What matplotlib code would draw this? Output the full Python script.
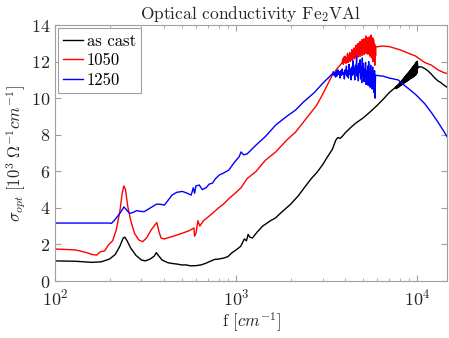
import matplotlib
matplotlib.use("Agg")
import matplotlib.pyplot as plt

plt.rcParams['font.family'] = 'serif'
plt.rcParams['font.serif'] = ['cmr10', 'DejaVu Serif']
plt.rcParams['mathtext.fontset'] = 'cm'
plt.rcParams['axes.unicode_minus'] = False
plt.rcParams['axes.formatter.use_mathtext'] = True

# as cast
f_cast = [100, 130, 160, 180, 200, 215, 228, 238, 243, 250, 262, 280, 300, 315, 335, 352, 363, 372,
          390, 420, 450, 470, 500, 530, 560, 600, 640, 680, 720, 760, 800, 850, 900, 950, 1000,
          1060, 1110, 1140, 1165, 1190, 1230, 1300, 1400, 1550, 1650, 1800, 2000, 2200, 2400,
          2600, 2800, 3000, 3200, 3400, 3550, 3650, 3750, 3850, 4000, 4300, 4600, 5000, 5500,
          6000, 6500, 7000, 7500,
          7600, 7650, 7700, 7750, 7800, 7850, 7900, 7950, 8000, 8050, 8100, 8150, 8200, 8250,
          8300, 8350, 8400, 8450, 8500, 8550, 8600, 8650, 8700, 8750, 8800, 8850, 8900, 8950,
          9000, 9050, 9100, 9150, 9200, 9250, 9300, 9350, 9400, 9450, 9500, 9550, 9600, 9650,
          9700, 9750, 9800, 9850, 9900, 9950, 10000,
          10100, 10300, 10600, 11000, 11500, 12000, 12500, 13000, 13500, 14000, 14600]
s_cast = [1.10, 1.08, 1.02, 1.05, 1.20, 1.45, 1.90, 2.35, 2.40, 2.20, 1.80, 1.40, 1.15, 1.10, 1.20,
          1.35, 1.55, 1.40, 1.15, 1.00, 0.95, 0.93, 0.88, 0.88, 0.83, 0.84, 0.88, 0.97, 1.08, 1.18,
          1.20, 1.25, 1.33, 1.55, 1.70, 1.90, 2.30, 2.20, 2.55, 2.40, 2.35, 2.65, 3.00, 3.30, 3.45,
          3.80, 4.20, 4.65, 5.15, 5.60, 5.95, 6.35, 6.80, 7.20, 7.70, 7.85, 7.80, 7.90, 8.10, 8.40,
          8.65, 8.90, 9.25, 9.60, 9.95, 10.30, 10.55,
          10.62, 10.52, 10.68, 10.55, 10.72, 10.58, 10.78, 10.62, 10.85, 10.66, 10.90, 10.70,
          10.96, 10.74, 11.02, 10.78, 11.08, 10.82, 11.14, 10.85, 11.20, 10.88, 11.26, 10.92,
          11.32, 10.95, 11.38, 10.98, 11.44, 11.02, 11.50, 11.05, 11.56, 11.08, 11.62, 11.10,
          11.68, 11.14, 11.74, 11.17, 11.80, 11.20, 11.86, 11.24, 11.92, 11.28, 11.98, 11.35,
          12.02,
          11.65, 11.72, 11.70, 11.62, 11.48, 11.30, 11.10, 10.95, 10.85, 10.72, 10.60]

# 1050
f_1050 = [100, 130, 150, 160, 170, 178, 188, 198, 208, 218, 228, 235, 240, 245, 252, 262, 275, 290,
          305, 320, 340, 355, 365, 375, 385, 400, 450, 500, 550, 585, 590, 600, 615, 630, 660, 700,
          740, 800, 850, 912, 1000, 1065, 1150, 1290, 1450, 1655, 1900, 2131, 2400, 2780, 3000,
          3376, 3600, 3820,
          3850, 3880, 3910, 3940, 3970, 4000, 4030, 4060, 4090, 4120, 4150, 4180, 4210, 4240,
          4270, 4300, 4330, 4360, 4390, 4420, 4450, 4480, 4510, 4540, 4570, 4600, 4630, 4660,
          4690, 4720, 4750, 4780, 4810, 4840, 4870, 4900, 4930, 4960, 4990, 5020, 5050, 5080,
          5110, 5140, 5170, 5200, 5230, 5260, 5290, 5320, 5350, 5380, 5410, 5440, 5470, 5500,
          5530, 5560, 5590, 5620, 5650, 5680, 5710, 5740, 5770, 5800, 5830, 5860, 5890, 5910,
          6400, 7000, 8000, 9000, 9800, 11000, 12000, 13000, 14000, 14600]
s_1050 = [1.75, 1.70, 1.55, 1.45, 1.42, 1.60, 1.65, 2.00, 2.20, 2.80, 3.80, 4.80, 5.20, 5.00, 4.10,
          3.30, 2.60, 2.25, 2.15, 2.35, 2.80, 3.05, 3.20, 2.70, 2.35, 2.30, 2.45, 2.60, 2.75, 2.90,
          2.45, 2.60, 3.30, 3.00, 3.30, 3.50, 3.70, 4.00, 4.20, 4.50, 4.85, 5.10, 5.60, 6.00, 6.60,
          7.06, 7.70, 8.15, 8.80, 9.60, 10.20, 11.20, 11.60, 11.90,
          11.90, 12.15, 11.85, 12.25, 11.95, 12.30, 11.90, 12.20, 12.00, 12.45, 11.95, 12.35,
          12.05, 12.50, 12.00, 12.40, 12.10, 12.65, 12.05, 12.55, 12.20, 12.75, 12.15, 12.60,
          12.30, 12.90, 12.20, 12.70, 12.35, 13.00, 12.25, 12.80, 12.40, 13.10, 12.30, 12.85,
          12.45, 13.20, 12.35, 12.95, 12.50, 13.25, 12.40, 13.00, 12.55, 13.40, 12.45, 13.10,
          12.60, 13.30, 12.40, 13.05, 12.50, 13.35, 12.30, 13.00, 12.45, 13.45, 12.20, 13.10,
          12.40, 13.30, 12.00, 13.20, 12.20, 13.00, 11.80, 12.90, 12.30, 12.80,
          12.85, 12.82, 12.65, 12.45, 12.30, 11.95, 11.80, 11.55, 11.40, 11.35]

# 1250
f_1250 = [100, 150, 200, 205, 212, 220, 230, 240, 248, 258, 270, 282, 300, 312, 330, 350, 363, 380,
          402, 420, 443, 470, 485, 505, 537, 565, 580, 590, 600, 626, 650, 683, 710, 740, 770, 808,
          850, 912, 980, 1040, 1065, 1100, 1150, 1290, 1450, 1655, 1900, 2131, 2360, 2700, 3000,
          3376,
          3400, 3435, 3470, 3505, 3540, 3575, 3610, 3645, 3680, 3715, 3750, 3785, 3820, 3855,
          3890, 3925, 3960, 3995, 4030, 4065, 4100, 4135, 4170, 4205, 4240, 4275, 4310, 4345,
          4380, 4415, 4450, 4485, 4520, 4555, 4590, 4625, 4660, 4695, 4730, 4765, 4800, 4835,
          4870, 4905, 4940, 4975, 5010, 5045, 5080, 5115, 5150, 5185, 5220, 5255, 5290, 5325,
          5360, 5395, 5430, 5465, 5500, 5535, 5570, 5605, 5640, 5675, 5710, 5745, 5780, 5815,
          5850, 5885, 5910,
          6500, 7000, 7840, 8500, 9800, 11000, 12000, 13000, 14000, 14600]
s_1250 = [3.17, 3.17, 3.17, 3.15, 3.30, 3.50, 3.75, 4.05, 3.90, 3.70, 3.75, 3.85, 3.80, 3.80, 3.95,
          4.10, 4.20, 4.20, 4.15, 4.40, 4.70, 4.85, 4.87, 4.90, 4.80, 4.70, 5.10, 4.80, 5.20, 5.25,
          5.00, 5.10, 5.30, 5.35, 5.60, 5.80, 5.90, 6.07, 6.50, 6.80, 7.06, 6.90, 6.95, 7.44, 7.90,
          8.53, 9.00, 9.35, 9.80, 10.30, 10.80, 11.30,
          11.30, 11.45, 11.25, 11.40, 11.15, 11.50, 11.20, 11.55, 11.30, 11.45, 11.10, 11.50,
          11.25, 11.60, 11.30, 11.40, 11.05, 11.55, 11.30, 11.75, 11.20, 11.50, 11.10, 11.85,
          11.30, 11.60, 11.00, 11.70, 11.25, 12.05, 11.30, 11.65, 11.00, 11.80, 11.35, 12.30,
          11.20, 11.75, 10.95, 11.90, 11.40, 12.10, 11.05, 11.70, 10.85, 12.20, 11.20, 11.90,
          10.90, 11.60, 11.05, 11.95, 10.75, 11.50, 10.95, 11.75, 10.70, 12.00, 11.10, 11.55,
          10.60, 11.80, 10.80, 11.45, 10.50, 11.70, 10.70, 11.40, 10.30, 11.50, 10.00, 11.25,
          11.25,
          11.20, 11.10, 11.00, 10.70, 10.20, 9.70, 9.20, 8.70, 8.20, 7.90]

fig = plt.figure(figsize=(4.49, 3.38), dpi=100)
ax = fig.add_axes([0.1225, 0.1686, 0.873, 0.7574])

ax.plot(f_cast, s_cast, color='black', lw=1.0, label='as cast')
ax.plot(f_1050, s_1050, color='red', lw=1.0, label='1050')
ax.plot(f_1250, s_1250, color='blue', lw=1.0, label='1250')

ax.set_xscale('log')
ax.set_xlim(100, 1.46e4)
ax.set_ylim(0, 14)
ax.set_yticks(range(0, 15, 2))

ax.tick_params(which='both', direction='in', top=True, right=True,
               color='#a0a0a0', labelcolor='#262626', labelsize=13)
ax.tick_params(which='major', length=4)
ax.tick_params(which='minor', length=2.5)
ax.tick_params(axis='x', pad=5)
for sp in ax.spines.values():
    sp.set_color('#a0a0a0')
    sp.set_linewidth(0.8)

ax.set_title('Optical conductivity Fe$_2$VAl', fontsize=12.5, color='#262626', pad=4)
ax.set_xlabel(r'f $[cm^{-1}]$', fontsize=12, color='#262626', labelpad=1)
ax.set_ylabel(r'$\sigma_{opt}\ [10^3\ \Omega^{-1} cm^{-1}]$', fontsize=12, color='#262626', labelpad=2)

leg = ax.legend(loc='upper left', fontsize=12, handlelength=1.2, handletextpad=0.2,
                borderpad=0.3, labelspacing=0.25, fancybox=False, framealpha=1,
                borderaxespad=0.2)
leg.get_frame().set_edgecolor('#a0a0a0')
leg.get_frame().set_linewidth(0.8)

fig.savefig('out.png', dpi=100)
